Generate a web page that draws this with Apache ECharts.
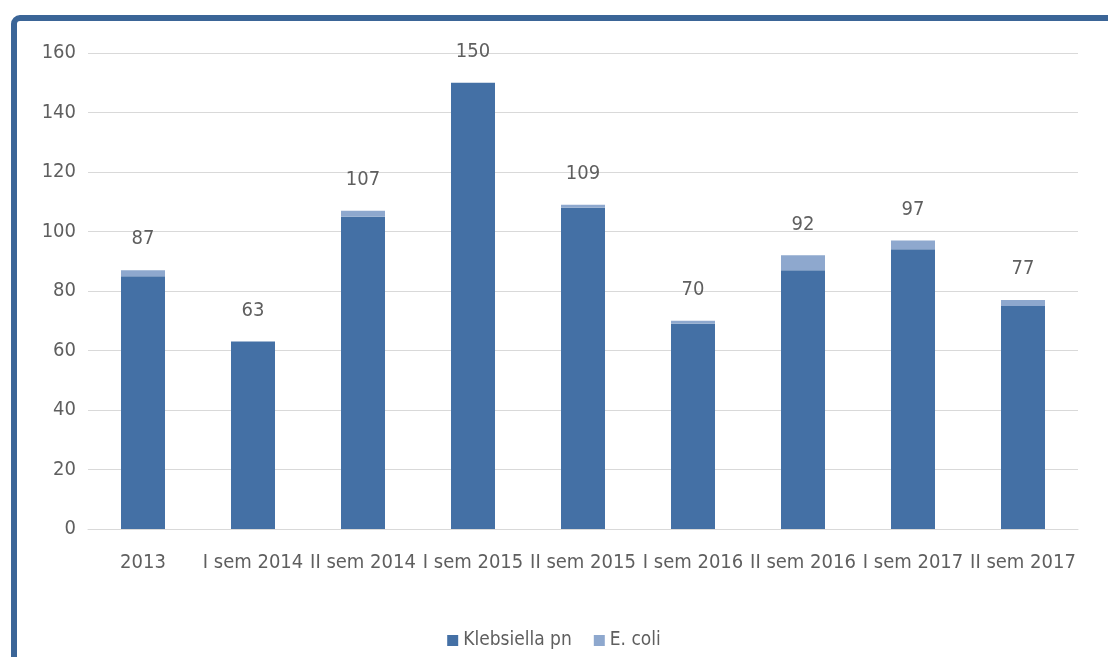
<!DOCTYPE html>
<html>
<head>
<meta charset="utf-8">
<script src="https://cdn.jsdelivr.net/npm/echarts@6/dist/echarts.min.js"></script>
<style>
html,body{margin:0;padding:0;background:#fff;}
#chart{width:1108px;height:657px;}
</style>
</head>
<body>
<div id="chart"></div>
<script>
const categories = ['2013','I sem 2014','II sem 2014','I sem 2015','II sem 2015','I sem 2016','II sem 2016','I sem 2017','II sem 2017'];
const klebsiella = [85, 63, 105, 150, 108, 69, 87, 94, 75];
const ecoli = [2, 0, 2, 0, 1, 1, 5, 3, 2];
const yTicks = {min: 0, max: 160, interval: 20};

const totals = klebsiella.map((v, i) => v + ecoli[i]);
const FONT = '"DejaVu Sans Condensed", "Liberation Sans", sans-serif';
const chart = echarts.init(document.getElementById('chart'));
chart.setOption({
  animation: false,
  backgroundColor: '#fff',
  textStyle: {fontFamily: FONT},
  graphic: [{
    type: 'rect', silent: true, z: 10,
    shape: {x: 14, y: 18, width: 1200, height: 800, r: 6},
    style: {fill: 'none', stroke: '#3B6597', lineWidth: 6}
  }],
  grid: {left: 88, right: 30, top: 53, bottom: 128},
  legend: {
    bottom: 2, left: 'center', itemWidth: 11, itemHeight: 11, itemGap: 22,
    icon: 'rect',
    textStyle: {fontFamily: FONT, fontSize: 19, color: '#5f5f5f'},
    data: ['Klebsiella pn', 'E. coli']
  },
  xAxis: {
    type: 'category', data: categories,
    axisLine: {lineStyle: {color: '#d9d9d9', width: 1}},
    axisTick: {show: false},
    axisLabel: {fontFamily: FONT, fontSize: 20, color: '#5f5f5f', margin: 24, interval: 0}
  },
  yAxis: {
    type: 'value', min: yTicks.min, max: yTicks.max, interval: yTicks.interval,
    axisLine: {show: false}, axisTick: {show: false},
    splitLine: {lineStyle: {color: '#d9d9d9', width: 1}},
    axisLabel: {fontFamily: FONT, fontSize: 20, color: '#5f5f5f', margin: 12}
  },
  series: [
    {
      name: 'Klebsiella pn', type: 'bar', stack: 'a', data: klebsiella,
      barWidth: '40%', itemStyle: {color: '#4470A5'}
    },
    {
      name: 'E. coli', type: 'bar', stack: 'a', data: ecoli,
      barWidth: '40%', itemStyle: {color: '#8EA8CE'},
      label: {
        show: true, position: 'top', distance: 21,
        fontFamily: FONT, fontSize: 20, color: '#5f5f5f',
        formatter: p => totals[p.dataIndex]
      }
    }
  ]
});
</script>
</body>
</html>
